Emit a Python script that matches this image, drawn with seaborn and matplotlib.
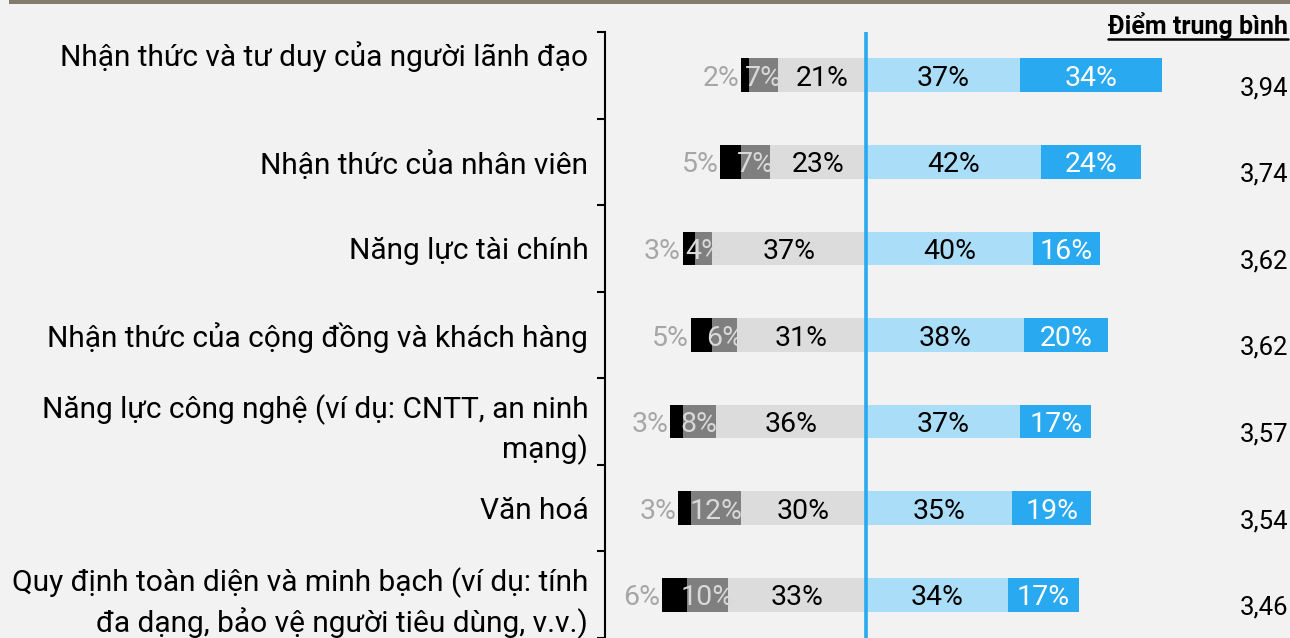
import numpy as np
import pandas as pd
import matplotlib
matplotlib.use("Agg")
import matplotlib.pyplot as plt
from matplotlib.lines import Line2D
from matplotlib.patches import Rectangle
import matplotlib.transforms as mtransforms
import seaborn as sns

categories = [
    "Nhận thức và tư duy của người lãnh đạo",
    "Nhận thức của nhân viên",
    "Năng lực tài chính",
    "Nhận thức của cộng đồng và khách hàng",
    "Năng lực công nghệ (ví dụ: CNTT, an ninh\nmạng)",
    "Văn hoá",
    "Quy định toàn diện và minh bạch (ví dụ: tính\nđa dạng, bảo vệ người tiêu dùng, v.v.)",
]
very_low = [2, 5, 3, 5, 3, 3, 6]
low = [7, 7, 4, 6, 8, 12, 10]
neutral = [21, 23, 37, 31, 36, 30, 33]
high = [37, 42, 40, 38, 37, 35, 34]
very_high = [34, 24, 16, 20, 17, 19, 17]
scores = ["3,94", "3,74", "3,62", "3,62", "3,57", "3,54", "3,46"]

c_black = "#000000"
c_gray = "#7F7F7F"
c_light = "#DCDCDC"
c_lblue = "#AADDF8"
c_blue = "#29A9EF"
bg = "#F2F2F2"

sns.set_theme(style="white")
plt.rcParams["font.family"] = ["Roboto", "DejaVu Sans"]

df = pd.DataFrame({
    "cat": categories,
    "very_low": very_low, "low": low, "neutral": neutral,
    "high": high, "very_high": very_high,
})
df["l3"] = -(df["neutral"] + df["low"] + df["very_low"])
df["l2"] = -(df["neutral"] + df["low"])
df["l1"] = -df["neutral"]
df["r2"] = df["high"] + df["very_high"]
df["r1"] = df["high"]

W, H = 1290, 638
fig = plt.figure(figsize=(W / 100, H / 100), dpi=100, facecolor=bg)
ax_left, ax_right, ax_top = 605, 1290, 32
ax = fig.add_axes([ax_left / W, 0, (ax_right - ax_left) / W, (H - ax_top) / H])
ax.set_facecolor(bg)

bw = 0.39
for col, color in [("l3", c_black), ("l2", c_gray), ("l1", c_light),
                   ("r2", c_blue), ("r1", c_lblue)]:
    sns.barplot(data=df, x=col, y="cat", orient="h", color=color,
                saturation=1, width=bw, ax=ax, linewidth=0)

px_per = 4.17
ax.set_xlim((ax_left - 866) / px_per, (ax_right - 866) / px_per)
ax.set_ylim(-0.5 + (H - ax_top) / 87.7, -0.5)

ax.axvline(0, color=c_blue, lw=2.6, zorder=5)

fs = 20.5
for i, r in df.iterrows():
    ax.text(r["l3"] - 0.4, i, f"{r['very_low']}%", ha="right", va="center_baseline",
            color="#A6A6A6", fontsize=fs)
    ax.text(-(r["neutral"] + r["low"] / 2), i, f"{r['low']}%", ha="center",
            va="center_baseline", color="#D9D9D9", fontsize=fs)
    ax.text(-r["neutral"] / 2, i, f"{r['neutral']}%", ha="center", va="center_baseline",
            color="black", fontsize=fs)
    ax.text(r["high"] / 2, i, f"{r['high']}%", ha="center", va="center_baseline",
            color="black", fontsize=fs)
    ax.text(r["high"] + r["very_high"] / 2, i, f"{r['very_high']}%",
            ha="center", va="center_baseline", color="white", fontsize=fs)
    ax.annotate(scores[i], xy=((1288 - ax_left) / (ax_right - ax_left), i),
                xycoords=mtransforms.blended_transform_factory(ax.transAxes, ax.transData),
                xytext=(0, -7.5), textcoords="offset points",
                ha="right", va="center_baseline", fontsize=18.5, color="black")

# axes styling
for s in ["top", "right", "bottom"]:
    ax.spines[s].set_visible(False)
ax.spines["left"].set_color("black")
ax.spines["left"].set_linewidth(1.5)
ax.set_xticks([])
ax.set_xlabel("")
ax.set_ylabel("")
ax.set_yticks(np.arange(-0.5, 7, 1))
ax.set_yticklabels([])
ax.set_yticks(np.arange(len(categories)), minor=True)
ax.set_yticklabels(categories, minor=True, fontsize=21.5, color="black",
                   linespacing=1.4)
ax.tick_params(axis="y", which="major", direction="out", length=6,
               width=1.5, color="black", left=True)
ax.tick_params(axis="y", which="minor", length=0, pad=12)

# first label sits higher than its bar in the original
lbl0 = ax.get_yticklabels(minor=True)[0]
lbl0.set_transform(lbl0.get_transform()
                   + mtransforms.ScaledTranslation(0, 0.22, fig.dpi_scale_trans))

# header
hdr = fig.text(1288 / W, 1 - 26 / H, "Điểm trung bình", ha="right", va="center",
               fontsize=18, fontweight="bold", color="black")
fig.canvas.draw()
bb = hdr.get_window_extent()
uy = 1 - 39 / H
fig.add_artist(Line2D([bb.x0 / W, bb.x1 / W], [uy, uy], color="black",
                      lw=1.8, transform=fig.transFigure))

# top band
fig.add_artist(Rectangle((9 / W, 1 - 4 / H), 1, 4 / H, transform=fig.transFigure,
                         color="#857B6D", lw=0))

fig.savefig("out.png", dpi=100, facecolor=bg)
